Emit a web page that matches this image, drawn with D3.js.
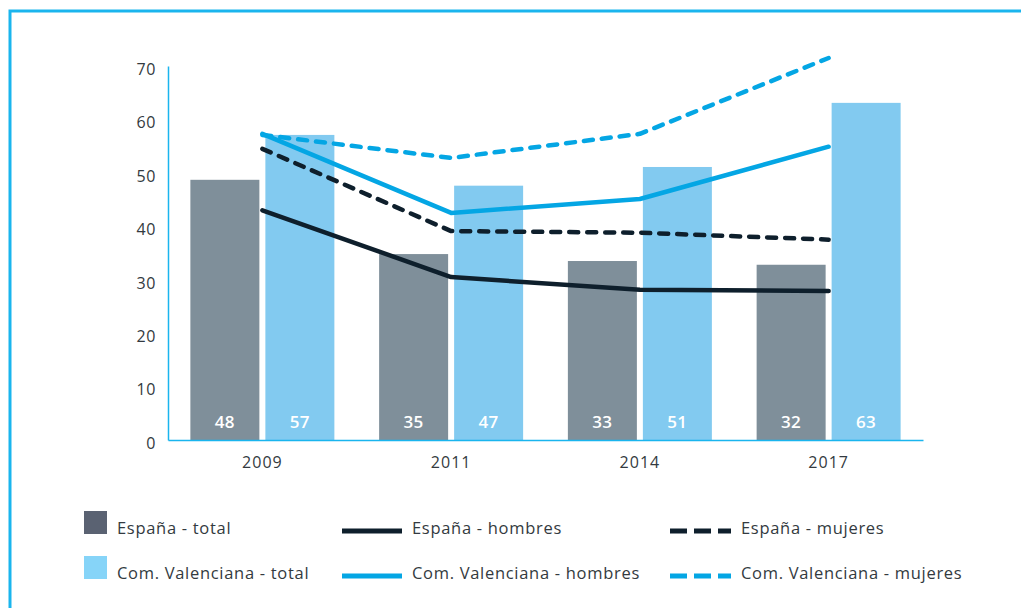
<!DOCTYPE html>
<html>
<head>
<meta charset="utf-8">
<script src="https://cdn.jsdelivr.net/npm/d3@7"></script>
<style>
  html, body { margin: 0; padding: 0; background: #fff; }
  svg { display: block; font-family: "Open Sans", sans-serif; }
</style>
</head>
<body>
<svg id="chart" width="1021" height="608"></svg>
<script>
// ---- data ----
const years = ["2009", "2011", "2014", "2017"];
const espanaTotal = [48.7, 34.8, 33.5, 32.8];
const espanaTotalLabels = ["48", "35", "33", "32"];
const valenciaTotal = [57.1, 47.6, 51.1, 63.1];
const valenciaTotalLabels = ["57", "47", "51", "63"];
const espanaHombres = [43, 30.5, 28.1, 27.9];
const espanaMujeres = [54.5, 39.1, 38.8, 37.5];
const valenciaHombres = [57.3, 42.5, 45.1, 54.9];
const valenciaMujeres = [57.1, 52.8, 57.3, 71.5];
const yTicks = [0, 10, 20, 30, 40, 50, 60, 70];
const legendItems = [
  "España - total", "España - hombres", "España - mujeres",
  "Com. Valenciana - total", "Com. Valenciana - hombres", "Com. Valenciana - mujeres"
];

// ---- styles ----
const C = {
  border: "#1ab5ee",
  axis: "#1ab5ee",
  espBar: "#7f8f9a",
  valBar: "#82caf0",
  espLegend: "#5a6272",
  valLegend: "#86d4f8",
  espLine: "#0e1f2c",
  valLine: "#04a6e4",
  text: "#333a40"
};
const FONT = "'Open Sans', sans-serif";

const svg = d3.select("#chart");

// border (top + left)
svg.append("path")
  .attr("d", "M10,612 L10,11 L1025,11")
  .attr("fill", "none").attr("stroke", C.border).attr("stroke-width", 3);

const x0 = 168, x1 = 923, yBase = 440, yTop = 66;
const x = d3.scaleBand().domain(years).range([x0, x1]).paddingInner(0).paddingOuter(0);
const y = d3.scaleLinear().domain([0, 70]).range([yBase, yTop]);

const barW = 69, barGap = 6;

// bars
const g = svg.append("g");
years.forEach((yr, i) => {
  const c = x(yr) + x.bandwidth() / 2;
  g.append("rect")
    .attr("x", c - barGap / 2 - barW).attr("width", barW)
    .attr("y", y(espanaTotal[i])).attr("height", y(0) - y(espanaTotal[i]))
    .attr("fill", C.espBar);
  g.append("rect")
    .attr("x", c + barGap / 2).attr("width", barW)
    .attr("y", y(valenciaTotal[i])).attr("height", y(0) - y(valenciaTotal[i]))
    .attr("fill", C.valBar);
  [[c - barGap / 2 - barW / 2, espanaTotalLabels[i]], [c + barGap / 2 + barW / 2, valenciaTotalLabels[i]]]
    .forEach(([cx, t]) => {
      g.append("text")
        .attr("x", cx).attr("y", 422)
        .attr("dy", "0.36em").attr("text-anchor", "middle")
        .attr("fill", "#fff").attr("font-size", 17).attr("font-weight", 600)
        .attr("letter-spacing", 0.5)
        .attr("font-family", FONT)
        .text(t);
    });
});

// axes
const yAxis = d3.axisLeft(y).tickValues(yTicks).tickSize(0).tickPadding(12);
const ya = svg.append("g").attr("transform", `translate(${x0},0)`).call(yAxis);
ya.select(".domain").attr("stroke", C.axis).attr("stroke-width", 1.5);
ya.selectAll("text").attr("font-size", 16).attr("fill", C.text)
  .attr("letter-spacing", 0.6)
  .attr("font-family", FONT).attr("dy", "0.52em");

const xAxis = d3.axisBottom(x).tickSize(0).tickPadding(17);
const xa = svg.append("g").attr("transform", `translate(0,${yBase})`).call(xAxis);
xa.select(".domain").attr("stroke", C.axis).attr("stroke-width", 1.5);
xa.selectAll("text").attr("font-size", 16).attr("fill", C.text)
  .attr("letter-spacing", 1)
  .attr("font-family", FONT);

// lines
const line = d3.line()
  .x((d, i) => x(years[i]) + x.bandwidth() / 2)
  .y(d => y(d));

function drawLine(data, color, dashed) {
  const p = svg.append("path").datum(data)
    .attr("d", line).attr("fill", "none")
    .attr("stroke", color).attr("stroke-width", 4.5)
    .attr("stroke-linejoin", "round").attr("stroke-linecap", "round");
  if (dashed) p.attr("stroke-dasharray", "9,9");
}
drawLine(valenciaMujeres, C.valLine, true);
drawLine(valenciaHombres, C.valLine, false);
drawLine(espanaMujeres, C.espLine, true);
drawLine(espanaHombres, C.espLine, false);

// legend
const lg = svg.append("g").attr("font-size", 16.5).attr("font-family", FONT)
  .attr("letter-spacing", 0.7);
const rowY = [522, 567];
[[C.espLegend, 0], [C.valLegend, 1]].forEach(([col, r]) => {
  lg.append("rect").attr("x", 84).attr("y", rowY[r] - 11).attr("width", 23).attr("height", 23).attr("fill", col);
  lg.append("text").attr("x", 117).attr("y", rowY[r] + 6).attr("dy", "0.35em")
    .attr("fill", C.text).text(legendItems[r * 3]);
});
[[C.espLine, 0], [C.valLine, 1]].forEach(([col, r]) => {
  lg.append("line").attr("x1", 342).attr("x2", 402)
    .attr("y1", rowY[r] + 9).attr("y2", rowY[r] + 9)
    .attr("stroke", col).attr("stroke-width", 5);
  lg.append("text").attr("x", 412).attr("y", rowY[r] + 6).attr("dy", "0.35em")
    .attr("fill", C.text).text(legendItems[r * 3 + 1]);
});
[[C.espLine, 0], [C.valLine, 1]].forEach(([col, r]) => {
  lg.append("line").attr("x1", 670).attr("x2", 731)
    .attr("y1", rowY[r] + 9).attr("y2", rowY[r] + 9)
    .attr("stroke", col).attr("stroke-width", 5)
    .attr("stroke-dasharray", "17,7");
  lg.append("text").attr("x", 741).attr("y", rowY[r] + 6).attr("dy", "0.35em")
    .attr("fill", C.text).text(legendItems[r * 3 + 2]);
});
</script>
</body>
</html>
